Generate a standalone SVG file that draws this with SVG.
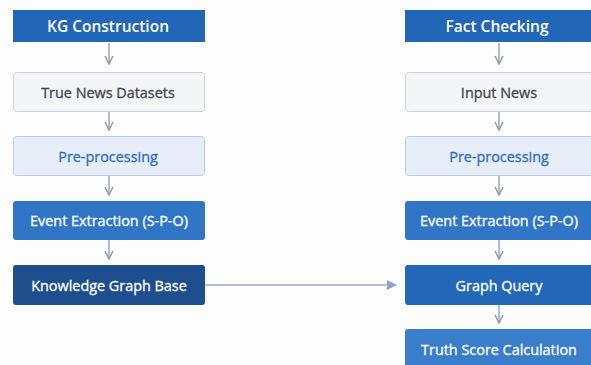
<svg xmlns="http://www.w3.org/2000/svg" width="591" height="365" viewBox="0 0 591 365">
<defs>
<marker id="chev" viewBox="0 0 10 10" refX="9" refY="5" markerWidth="10" markerHeight="10" markerUnits="userSpaceOnUse" orient="auto">
<path d="M1,1 L9,5 L1,9" fill="none" stroke="#8d9bb0" stroke-width="1.5"/>
</marker>
<marker id="tri" viewBox="0 0 10 10" refX="9" refY="5" markerWidth="10" markerHeight="10" markerUnits="userSpaceOnUse" orient="auto">
<path d="M0,0 L10,5 L0,10 Z" fill="#8fa3c4"/>
</marker>
</defs>
<style>
text{font-family:"Open Sans","Noto Sans","Liberation Sans",sans-serif;text-anchor:middle;dominant-baseline:central}
.hdr{fill:#2166b7}
.hdr-t{fill:#fff;font-size:15.5px;font-weight:600}
.gray{fill:#f3f4f6;stroke:#cfd3d9;stroke-width:1}
.gray-t{fill:#40464f;stroke:#40464f;stroke-width:0.3;font-size:14.4px}
.light{fill:#e7eef9;stroke:#b9cbe5;stroke-width:1}
.light-t{fill:#2e6fbf;stroke:#2e6fbf;stroke-width:0.3;font-size:14.4px}
.mid{fill:#3176c6}
.dark{fill:#1e4e8d}
.gq{fill:#2368b8}
.ts{fill:#3a7dca}
.white-t{fill:#fff;stroke:#fff;stroke-width:0.3;font-size:14.4px}
.conn{stroke:#8d9bb0;stroke-width:1.3;fill:none}
</style>
<rect width="591" height="365" fill="#fdfdfe"/>
<g id="connectors">
<line class="conn" x1="109" y1="43" x2="109" y2="64" marker-end="url(#chev)"/>
<line class="conn" x1="109" y1="112" x2="109" y2="130" marker-end="url(#chev)"/>
<line class="conn" x1="109" y1="176" x2="109" y2="195" marker-end="url(#chev)"/>
<line class="conn" x1="109" y1="240" x2="109" y2="259" marker-end="url(#chev)"/>
<line class="conn" x1="499" y1="43" x2="499" y2="64" marker-end="url(#chev)"/>
<line class="conn" x1="499" y1="112" x2="499" y2="130" marker-end="url(#chev)"/>
<line class="conn" x1="499" y1="176" x2="499" y2="195" marker-end="url(#chev)"/>
<line class="conn" x1="499" y1="240" x2="499" y2="259" marker-end="url(#chev)"/>
<line class="conn" x1="499" y1="305" x2="499" y2="323" marker-end="url(#chev)"/>
<line x1="205" y1="285" x2="396" y2="285" stroke="#9cadc8" stroke-width="1.5" marker-end="url(#tri)"/>
</g>
<g id="kg-construction">
<rect class="hdr" x="13" y="10" width="192" height="32"/>
<text class="hdr-t" x="108" y="26">KG Construction</text>
</g>
<g id="true-news">
<rect class="gray" x="13.5" y="72.5" width="191" height="39" rx="3"/>
<text class="gray-t" x="108" y="92">True News Datasets</text>
</g>
<g id="pre-left">
<rect class="light" x="13.5" y="136.5" width="191" height="39" rx="3"/>
<text class="light-t" x="108" y="156">Pre-processing</text>
</g>
<g id="event-left">
<rect class="mid" x="13" y="201" width="192" height="39" rx="3"/>
<text class="white-t" x="109" y="220.5">Event Extraction (S-P-O)</text>
</g>
<g id="kg-base">
<rect class="dark" x="13" y="265" width="192" height="40" rx="3"/>
<text class="white-t" x="109" y="285">Knowledge Graph Base</text>
</g>
<g id="fact-checking">
<rect class="hdr" x="405" y="10" width="192" height="32"/>
<text class="hdr-t" x="497" y="26">Fact Checking</text>
</g>
<g id="input-news">
<rect class="gray" x="405.5" y="72.5" width="191" height="39" rx="3"/>
<text class="gray-t" x="499" y="92">Input News</text>
</g>
<g id="pre-right">
<rect class="light" x="405.5" y="136.5" width="191" height="39" rx="3"/>
<text class="light-t" x="499" y="156">Pre-processing</text>
</g>
<g id="event-right">
<rect class="mid" x="405" y="201" width="192" height="39" rx="3"/>
<text class="white-t" x="499" y="220.5">Event Extraction (S-P-O)</text>
</g>
<g id="graph-query">
<rect class="gq" x="405" y="265" width="192" height="40" rx="3"/>
<text class="white-t" x="499" y="285">Graph Query</text>
</g>
<g id="truth-score">
<rect class="ts" x="405" y="329" width="192" height="40" rx="3"/>
<text class="white-t" x="499" y="349">Truth Score Calculation</text>
</g>
</svg>
